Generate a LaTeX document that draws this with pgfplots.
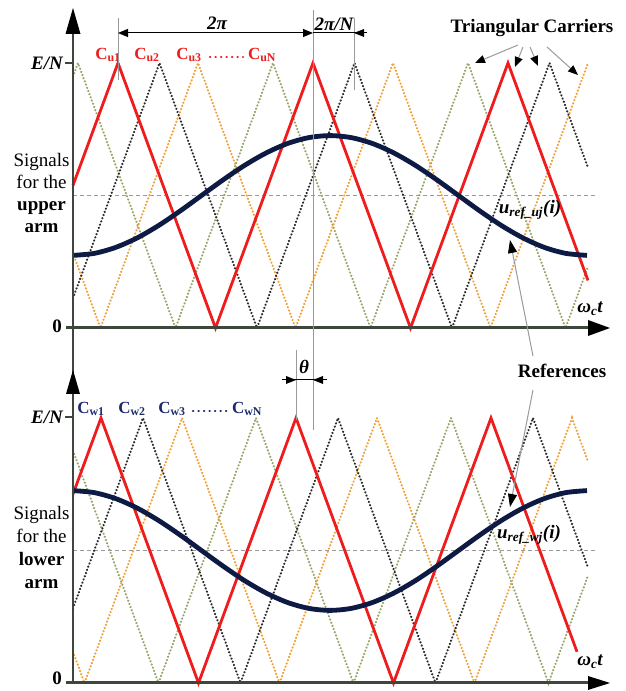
\documentclass[border=0pt]{standalone}
\usepackage{fontspec}
\setmainfont{Liberation Serif}
\usepackage{pgfplots}
\pgfplotsset{compat=1.18}
\usetikzlibrary{arrows.meta}
\definecolor{cred}{HTML}{EE1C1C}
\definecolor{cnavy}{HTML}{0C1A44}
\definecolor{cblack}{HTML}{2A2A2A}
\definecolor{corange}{HTML}{F0A038}
\definecolor{cgreen}{HTML}{98A468}
\definecolor{caxis}{HTML}{3E463E}
\definecolor{cgray}{HTML}{9A9A9A}
\definecolor{clab}{HTML}{1C2A6C}
\pgfplotsset{carr/.style={hide axis, x=1pt, y=265pt, xmin=0, xmax=515, ymin=0, ymax=1, clip=false, anchor=south west},
  dotc/.style={line width=2.3pt, line cap=round, dash pattern=on 0.2pt off 3.2pt}}
\newcommand{\bigf}{\fontsize{19}{22}\selectfont}
\newcommand{\clf}{\fontsize{17}{20}\selectfont}
\begin{document}
\begin{tikzpicture}
\useasboundingbox (0,0) rectangle (625pt,691pt);
% ---------- upper panel ----------
\begin{axis}[carr, at={(73pt,363pt)}]
\addplot[cgray, line width=0.9pt, dash pattern=on 4pt off 3pt] coordinates {(0,0.5) (522,0.5)};
\addplot[cgreen, dotc] coordinates {(0,0.9487) (5,1) (102.5,0) (200,1) (297.5,0) (395,1) (492.5,0) (515,0.2308)};
\addplot[corange, dotc] coordinates {(0,0.2821) (27.5,0) (125,1) (222.5,0) (320,1) (417.5,0) (515,1)};
\addplot[cblack, dotc] coordinates {(0,0.1128) (86.5,1) (184,0) (281.5,1) (379,0) (476.5,1) (515,0.6051)};
\addplot[cred, line width=2.8pt] coordinates {(0,0.5385) (45,1) (142.5,0) (240,1) (337.5,0) (435,1) (515,0.1795)};
\addplot[cnavy, line width=4.8pt, smooth] coordinates {
(0,0.274) (21.4,0.2817) (42.8,0.3043) (64.3,0.3402) (85.7,0.387) (107.1,0.4415) (128.5,0.5)
(149.9,0.5585) (171.3,0.613) (192.8,0.6598) (214.2,0.6957) (235.6,0.7183) (257,0.726)
(278.4,0.7183) (299.8,0.6957) (321.2,0.6598) (342.7,0.613) (364.1,0.5585) (385.5,0.5)
(406.9,0.4415) (428.3,0.387) (449.8,0.3402) (471.2,0.3043) (492.6,0.2817) (514,0.274)};
\end{axis}
% ---------- lower panel ----------
\begin{axis}[carr, at={(73pt,8pt)}]
\addplot[cgray, line width=0.9pt, dash pattern=on 4pt off 3pt] coordinates {(0,0.5) (522,0.5)};
\addplot[cgreen, dotc] coordinates {(0,0.8769) (85.5,0) (183,1) (280.5,0) (378,1) (475.5,0) (515,0.4051)};
\addplot[corange, dotc] coordinates {(0,0.1179) (11.5,0) (109,1) (206.5,0) (304,1) (401.5,0) (499,1) (515,0.8359)};
\addplot[cblack, dotc] coordinates {(0,0.2821) (70,1) (167.5,0) (265,1) (362.5,0) (460,1) (515,0.4359)};
\addplot[cred, line width=2.8pt] coordinates {(0,0.7128) (28,1) (125.5,0) (223,1) (320.5,0) (418,1) (504,0.1179)};
\addplot[cnavy, line width=4.8pt, smooth] coordinates {
(0,0.726) (21.4,0.7183) (42.8,0.6957) (64.3,0.6598) (85.7,0.613) (107.1,0.5585) (128.5,0.5)
(149.9,0.4415) (171.3,0.387) (192.8,0.3402) (214.2,0.3043) (235.6,0.2817) (257,0.274)
(278.4,0.2817) (299.8,0.3043) (321.2,0.3402) (342.7,0.387) (364.1,0.4415) (385.5,0.5)
(406.9,0.5585) (428.3,0.613) (449.8,0.6598) (471.2,0.6957) (492.6,0.7183) (514,0.726)};
\end{axis}
% ---------- annotations (pixel coordinates, y down) ----------
\begin{scope}[x=1pt,y=-1pt,shift={(0pt,691pt)}]
% axes
\draw[caxis, line width=2.4pt] (73,684)--(73,30);
\fill[black] (73,8)--(65.5,34)--(80.5,34)--cycle;
\fill[black] (73,370)--(66,394)--(80,394)--cycle;
\draw[caxis, line width=3pt] (66,328)--(590,328);
\fill[black] (610,328)--(588,320)--(588,336)--cycle;
\draw[caxis, line width=3pt] (66,683)--(590,683);
\fill[black] (610,683)--(588,676)--(588,690)--cycle;
\draw[caxis, line width=1.5pt] (65,63)--(73,63);
\draw[caxis, line width=1.5pt] (65,417)--(73,417);
% tick labels
\node[anchor=east, inner sep=1pt] at (64,63) {\bigf\bfseries\itshape E/N};
\node[anchor=east, inner sep=1pt] at (64,417) {\bigf\bfseries\itshape E/N};
\node[anchor=east, inner sep=1pt] at (63,326) {\bigf\bfseries 0};
\node[anchor=east, inner sep=1pt] at (63,678) {\bigf\bfseries 0};
\node at (590,309) {\bigf\bfseries\itshape ω\textsubscript{c}t};
\node at (590,662) {\bigf\bfseries\itshape ω\textsubscript{c}t};
% side labels
\node[anchor=base] at (41.5,167) {\bigf Signals};
\node[anchor=base] at (41.5,189) {\bigf for the};
\node[anchor=base] at (41.5,211) {\bigf\bfseries upper};
\node[anchor=base] at (41.5,233) {\bigf\bfseries arm};
\node[anchor=base] at (41.5,520) {\bigf Signals};
\node[anchor=base] at (41.5,543) {\bigf for the};
\node[anchor=base] at (41.5,566) {\bigf\bfseries lower};
\node[anchor=base] at (41.5,589) {\bigf\bfseries arm};
% carrier labels
\node[text=cred] at (108,55) {\clf\bfseries C\textsubscript{u1}};
\node[text=cred] at (147,55) {\clf\bfseries C\textsubscript{u2}};
\node[text=cred] at (189,55) {\clf\bfseries C\textsubscript{u3}};
\draw[cred, line width=2.4pt, line cap=round, dash pattern=on 0.3pt off 5.2pt] (210,57)--(243,57);
\node[text=cred] at (262,55) {\clf\bfseries C\textsubscript{uN}};
\node[text=clab] at (91,409) {\clf\bfseries C\textsubscript{w1}};
\node[text=clab] at (132,409) {\clf\bfseries C\textsubscript{w2}};
\node[text=clab] at (172,409) {\clf\bfseries C\textsubscript{w3}};
\draw[clab, line width=2.4pt, line cap=round, dash pattern=on 0.3pt off 5.2pt] (193,411)--(230,411);
\node[text=clab] at (247,409) {\clf\bfseries C\textsubscript{wN}};
% period markers
\draw[cgray, line width=1pt] (118,18)--(118,80);
\draw[cgray, line width=1pt] (313,10)--(313,430);
\draw[cgray, line width=1pt] (354,18)--(354,90);
\draw[cgray, line width=1pt] (296,350)--(296,420);
\draw[black, line width=1pt, {Triangle[length=10pt,width=8pt]}-{Triangle[length=10pt,width=8pt]}] (118,33)--(313,33);
\draw[black, line width=1pt] (313,33)--(367,33);
\fill[black] (354,33)--(364,29)--(364,37)--cycle;
\node at (217,23) {\bigf\bfseries\itshape 2π};
\node at (334,24) {\bigf\bfseries\itshape 2π/N};
\draw[black, line width=1pt] (282,380)--(327,380);
\fill[black] (296,380)--(286,376)--(286,384)--cycle;
\fill[black] (313,380)--(323,376)--(323,384)--cycle;
\node at (304,367) {\bigf\bfseries\itshape θ};
% callouts
\node at (532,28) {\bigf\bfseries Triangular Carriers};
\draw[cgray, line width=1pt, -{Triangle[length=10pt,width=8pt,color=black]}] (518,45)--(475,63);
\draw[cgray, line width=1pt, -{Triangle[length=10pt,width=8pt,color=black]}] (523,47)--(515,67);
\draw[cgray, line width=1pt, -{Triangle[length=10pt,width=8pt,color=black]}] (530,47)--(538,66);
\draw[cgray, line width=1pt, -{Triangle[length=10pt,width=8pt,color=black]}] (547,47)--(578,75);
\node at (562,371) {\bigf\bfseries References};
\draw[cgray, line width=1pt, -{Triangle[length=13pt,width=9pt,color=black]}] (533,356)--(510,240);
\draw[cgray, line width=1pt, -{Triangle[length=13pt,width=9pt,color=black]}] (533,390)--(510,507);
\node at (530,210) {\bigf\bfseries\itshape u\textsubscript{ref\_uj}(i)};
\node at (529,535) {\bigf\bfseries\itshape u\textsubscript{ref\_wj}(i)};
\end{scope}
\end{tikzpicture}
\end{document}
